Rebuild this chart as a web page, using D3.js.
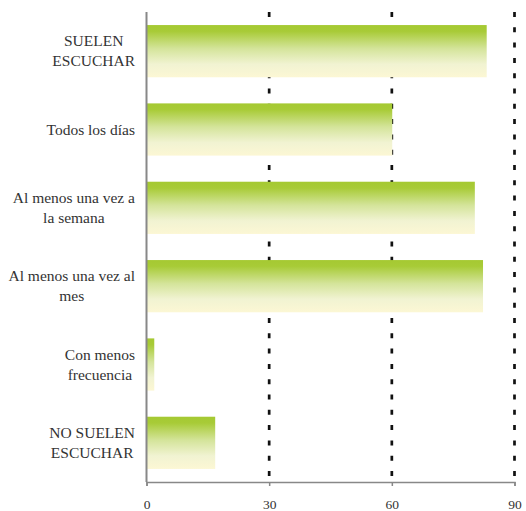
<!DOCTYPE html>
<html>
<head>
<meta charset="utf-8">
<script src="https://cdn.jsdelivr.net/npm/d3@7"></script>
<style>
    body { margin: 0; background: #fff; }
</style>
</head>
<body>
<div id="chart"></div>
<script>
// categories (each one split in lines like the original)
let categories = [
    ["SUELEN", "ESCUCHAR"],
    ["Todos los días"],
    ["Al menos una vez a", "la semana"],
    ["Al menos una vez al", "mes"],
    ["Con menos", "frecuencia"],
    ["NO SUELEN", "ESCUCHAR"]
];
let values = [83.2, 60.1, 80.3, 82.3, 1.9, 16.8];
let tickValues = [0, 30, 60, 90];

let width = 526, height = 511;
let margin = {left: 146.5, right: 11.5, top: 12, bottom: 29};
let serif = "Liberation Serif";

let svg = d3.select("#chart")
    .append("svg")
    .attr("width", width)
    .attr("height", height)
    .attr("font-family", serif);

// gradient for the bars, green on top fading to cream
let grad = svg.append("defs").append("linearGradient")
    .attr("id", "barGrad")
    .attr("x1", 0).attr("y1", 0)
    .attr("x2", 0).attr("y2", 1);
[[0, "#a5c932"], [0.12, "#a8cb37"], [0.45, "#d4e49a"], [0.75, "#f1f3d2"], [1, "#fcf7d4"]]
    .forEach(s => grad.append("stop").attr("offset", s[0]).attr("stop-color", s[1]));

let x = d3.scaleLinear()
    .domain([0, 90])
    .range([margin.left, width - margin.right]);

let y = d3.scaleBand()
    .domain(d3.range(categories.length))
    .range([margin.top, height - margin.bottom])
    .paddingInner(1 / 3)
    .paddingOuter(1 / 6);

// dotted gridlines
svg.selectAll(".grid")
    .data(tickValues.filter(d => d > 0))
    .enter()
    .append("line")
    .attr("class", "grid")
    .attr("x1", d => x(d))
    .attr("x2", d => x(d))
    .attr("y1", margin.top)
    .attr("y2", height - margin.bottom)
    .attr("stroke", "#111")
    .attr("stroke-width", 2.7)
    .attr("stroke-dasharray", "5,10.3");

// bars
svg.selectAll(".bar")
    .data(values)
    .enter()
    .append("rect")
    .attr("class", "bar")
    .attr("x", x(0))
    .attr("y", (d, i) => y(i))
    .attr("width", d => x(d) - x(0))
    .attr("height", y.bandwidth())
    .attr("fill", "url(#barGrad)");

// x axis
let xAxis = d3.axisBottom(x)
    .tickValues(tickValues)
    .tickSize(4)
    .tickPadding(13);

let gx = svg.append("g")
    .attr("class", "x-axis")
    .attr("transform", "translate(0," + (height - margin.bottom) + ")")
    .call(xAxis)
    .attr("font-family", serif)
    .attr("font-size", 13.5);
gx.select(".domain").attr("stroke", "#888").attr("stroke-width", 1.5);
gx.selectAll(".tick line").attr("stroke", "#888").attr("stroke-width", 1.5);
gx.selectAll("text").attr("fill", "#333");

// y axis line only
svg.append("line")
    .attr("x1", x(0)).attr("x2", x(0))
    .attr("y1", margin.top).attr("y2", height - margin.bottom)
    .attr("stroke", "#888")
    .attr("stroke-width", 2);

// category labels, lines centered within the block whose right edge sits near the axis
let labelRight = 135;
let lineH = 20;
categories.forEach((lines, i) => {
    let cy = y(i) + y.bandwidth() / 2;
    let t = svg.append("text")
        .attr("font-family", serif)
        .attr("font-size", 15.5)
        .attr("fill", "#333")
        .attr("text-anchor", "middle");
    lines.forEach((l, j) => {
        t.append("tspan")
            .attr("y", cy + (j - (lines.length - 1) / 2) * lineH + 5)
            .text(l);
    });
    let maxW = d3.max(t.selectAll("tspan").nodes(), n => n.getComputedTextLength());
    t.selectAll("tspan").attr("x", labelRight - maxW / 2);
});
</script>
</body>
</html>
